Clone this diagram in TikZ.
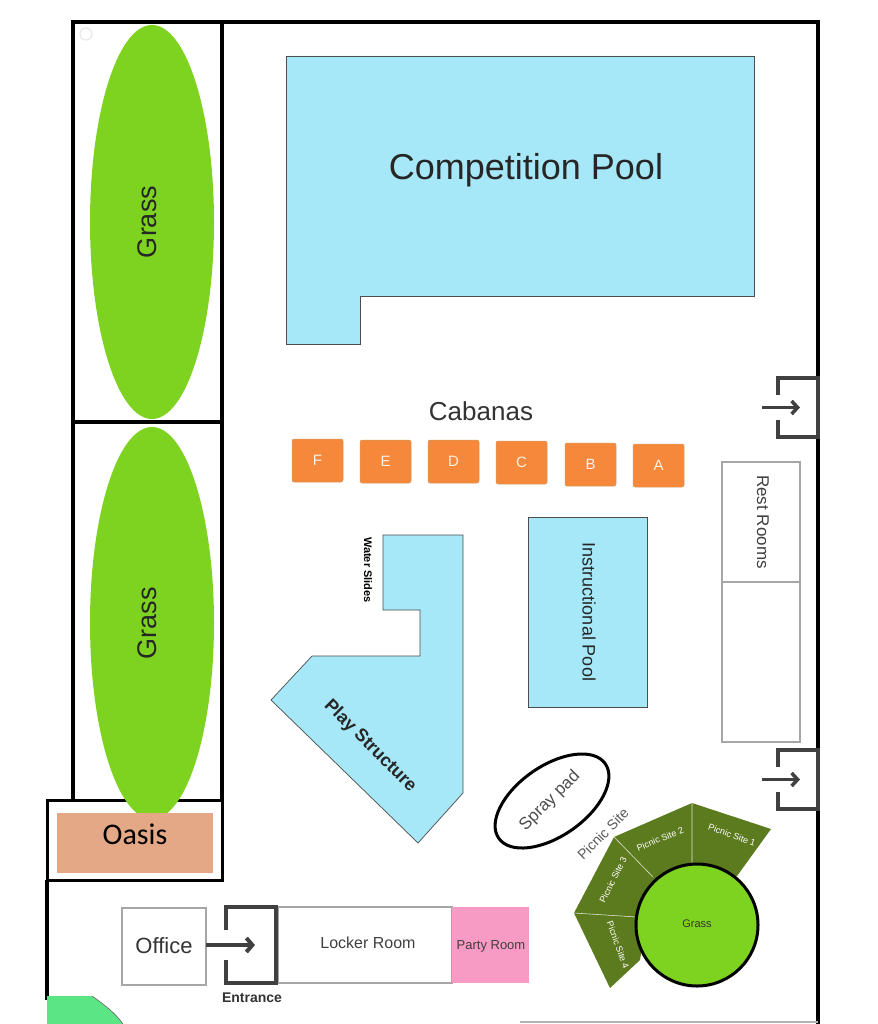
\documentclass[tikz,border=0pt]{standalone}
\usepackage{fontspec}
\usetikzlibrary{arrows.meta}
\setmainfont{Liberation Sans}
\newfontfamily\calib{Carlito}
\begin{document}
\begin{tikzpicture}[x=1pt,y=-1pt,
  wall/.style={line width=4pt,black},
  pool/.style={draw=gray!60!black,line width=0.7pt},
  cab/.style={draw=orange!70!black!60,rounded corners=2pt,line width=0.5pt},
  door/.style={line width=3.5pt,draw=black!75},
  room/.style={draw=gray!70,line width=1.2pt},
  fs/.style={font=\fontsize{#1}{#1}\selectfont}]
\definecolor{poolc}{HTML}{A6E8F7}
\definecolor{grassc}{HTML}{7ED321}
\definecolor{picnic}{HTML}{5C7A1E}
\definecolor{cabc}{HTML}{F5883A}
\useasboundingbox[fill=white] (0,0) rectangle (877,1024);
% walls
\draw[wall] (73,800) -- (73,22) -- (818,22) -- (818,378);
\draw[wall] (818,437) -- (818,750);
\draw[wall] (818,810) -- (818,1024);
\draw[wall] (222,22) -- (222,800);
\draw[wall] (73,422) -- (222,422);
\draw[wall,line width=3pt] (47,800) rectangle (222,880);
\draw[wall] (47,880) -- (47,1000);
\draw[gray!60,line width=1.5pt] (520,1022) -- (818,1022);
\draw[gray!20,line width=1pt] (86,34) circle (6);
% grass
\fill[grassc] (152,222) ellipse (62 and 197);
\fill[grassc] (152,623) ellipse (62 and 196);
\node[fs=27,text=black!85] at (147,222) [rotate=90] {Grass};
\node[fs=27,text=black!85] at (147,623) [rotate=90] {Grass};
% oasis
\fill[fill={rgb,255:red,228;green,168;blue,134}] (57,813) rectangle (213,873);
\node[font=\calib\fontsize{30}{30}\selectfont] at (135,834) {Oasis};
% competition pool
\draw[pool,fill=poolc] (286,56) -- (754,56) -- (754,296) -- (360,296) -- (360,344) -- (286,344) -- cycle;
\node[fs=36,text=black!85] at (526,170) {Competition Pool};
% cabanas
\node[fs=26,text=black!80] at (481,411) {Cabanas};
\foreach \x/\y/\l in {292/439/F,360/440/E,428/440/D,496/441/C,565/443/B,633/444/A}{
  \draw[cab,fill=cabc] (\x,\y) rectangle ++(51,43);
  \node[fs=15,text=white!90!orange] at (\x+25.5,\y+21.5) {\l};}
% rest rooms
\draw[room] (722,462) rectangle (800,742);
\draw[room] (722,582) -- (800,582);
\node[fs=17,rotate=-90,text=black!75] at (763,522) {Rest Rooms};
% doors right
\foreach \t in {378,750}{
  \draw[door] (778,\t+17) -- (778,\t) -- (818,\t) -- (818,\t+59) -- (778,\t+59) -- (778,\t+42);
  \draw[door,-{Straight Barb[length=6pt,width=13pt]}] (762,\t+29.5) -- (800,\t+29.5);}
% instructional pool
\draw[pool,fill=poolc] (528,517) rectangle (647,707);
\node[fs=18,rotate=-90,text=black!85] at (589,612) {Instructional Pool};
% water slides / play structure
\draw[pool,fill=poolc] (383,535) -- (463,535) -- (463,793) -- (418,843) -- (271,700) -- (312,656) -- (420,656) -- (420,610) -- (383,610) -- cycle;
\node[rotate=-90,font=\bfseries\fontsize{11}{11}\selectfont] at (368,570) {Water Slides};
\node[rotate=-45,font=\bfseries\fontsize{18}{18}\selectfont,text=black!85] at (370,746) {Play Structure};
% spray pad
\draw[line width=3pt,rotate around={35:(552,801)}] (552,801) ellipse (65 and 35);
\node[fs=17,rotate=45,text=black!70] at (550,801) {Spray pad};
\node[fs=14,rotate=45,text=black!65] at (603,834) {Picnic Site};
% picnic sites
\fill[picnic] (574,913) -- (614,837) -- (692,803) -- (771,829) -- (737,876) -- (697,880) -- (650,900) -- (640,960) -- (610,988) -- cycle;
\draw[white!80!picnic,line width=0.6pt] (692,803) -- (692,867) (614,837) -- (653,877) (574,913) -- (637,917);
\node[fs=9,rotate=-20,text=white] at (732,835) {Picnic Site 1};
\node[fs=9,rotate=22,text=white] at (660,839) {Picnic Site 2};
\node[fs=9,rotate=63,text=white] at (613,880) {Picnic Site 3};
\node[fs=9,rotate=-70,text=white] at (618,945) {Picnic Site 4};
\draw[fill=grassc,line width=3pt] (697,925) circle (61);
\node[fs=11,text=black!80] at (697,924) {Grass};
% bottom rooms
\draw[room] (122,908) rectangle (206,985);
\node[fs=22,text=black!80] at (164,946) {Office};
\draw[room] (278,907) rectangle (452,983);
\node[fs=16,text=black!75] at (368,943) {Locker Room};
\fill[fill={rgb,255:red,247;green,154;blue,196}] (452,907) rectangle (529,983);
\node[fs=13,text=black!75] at (491,946) {Party Room};
\draw[door,line width=4pt] (226,930) -- (226,907) -- (276,907) -- (276,983) -- (226,983) -- (226,960);
\draw[door,line width=4pt,-{Straight Barb[length=6pt,width=14pt]}] (206,945) -- (255,945);
\node[font=\bfseries\fontsize{14}{14}\selectfont,text=black!80] at (252,998) {Entrance};
% green corner
\fill[green!70!cyan!60!white!90!black] (47,996) -- (92,996) .. controls (105,1005) and (116,1014) .. (123,1024) -- (47,1024) -- cycle;
\draw[black!60,line width=0.6pt] (92,996) .. controls (105,1005) and (116,1014) .. (123,1024);
\end{tikzpicture}
\end{document}
